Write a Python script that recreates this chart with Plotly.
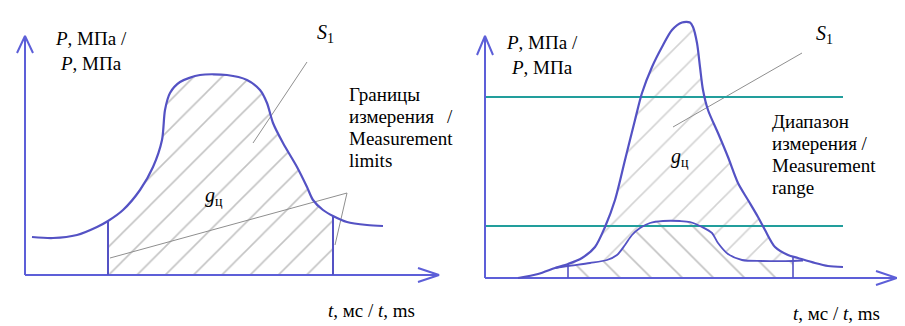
import plotly.graph_objects as go

# ---- data (screen-space schematic coordinates: t to the right, P drawn upward; y measured from top) ----
# Left panel: pressure curve
left_t = [32, 53, 77, 97, 108, 123, 140, 153, 162, 165, 170, 180, 200, 227, 247, 260, 267, 273,
          283, 297, 307, 313, 323, 333, 347, 367, 383]
left_p = [237, 238, 235, 227, 221, 210, 190, 167, 140, 110, 93, 82, 75, 75, 80, 90, 103, 123,
          143, 167, 187, 200, 210, 216, 222, 225, 226]
left_limits_t = [108, 333]
left_limits_p = [221, 216]

# Right panel: main pressure curve
right_t = [518, 538, 555, 568, 582, 595, 605, 615, 625, 635, 642, 652, 662, 672, 682, 690, 693,
           697, 700, 703, 708, 718, 728, 738, 748, 758, 765, 775, 788, 798, 815, 828, 843]
right_p = [278, 274, 268, 264, 258, 247, 227, 200, 160, 120, 93, 67, 47, 30, 22.5, 22.5, 27,
           43, 67, 90, 110, 133, 157, 183, 200, 217, 230, 247, 255, 258, 263, 266, 267]
# Right panel: lower (inner) curve
low_t = [555, 568, 590, 607, 617, 625, 632, 640, 650, 663, 680, 690, 702, 712, 718, 728, 742,
         762, 793, 803]
low_p = [268, 266, 263, 260, 255, 245, 235, 228, 223, 221, 221, 222, 227, 233, 243, 254, 260,
         261, 261, 260.5]
right_limits_t = [568, 793]
right_limits_p = [264, 256]
range_levels = [97, 226]

AX = "#5d5fd8"
CURVE = "#5452c4"
TEAL = "#229e9c"
GRAY = "#8f8f8f"
FONT = "Liberation Serif, Times New Roman, DejaVu Serif, serif"
OFF = 8  # page body margin compensation

fig = go.Figure()


def line(xs, ys, color, width, shape="linear"):
    fig.add_trace(go.Scatter(x=xs, y=ys, mode="lines",
                             line=dict(color=color, width=width, shape=shape, smoothing=0.8),
                             hoverinfo="skip", showlegend=False))


def hatch(xs, ys, shape, fg, size=20):
    fig.add_trace(go.Scatter(x=xs, y=ys, mode="lines", fill="toself", line=dict(width=0),
                             fillcolor="white",
                             fillpattern=dict(shape=shape, size=size, solidity=0.08,
                                              fgcolor=fg, bgcolor="white"),
                             hoverinfo="skip", showlegend=False))


# ---------- left panel ----------
i0 = left_t.index(left_limits_t[0])
i1 = left_t.index(left_limits_t[1])
hx = [left_limits_t[0]] + left_t[i0:i1 + 1] + [left_limits_t[1]]
hy = [275] + left_p[i0:i1 + 1] + [275]
hatch(hx, hy, "/", "#888888", 20)

# leader lines
line([307, 253], [62, 143], GRAY, 1)
line([110, 347, 335], [258, 193, 245], GRAY, 1)

# axes
line([25, 25], [275, 37], AX, 2)
line([17, 25, 33], [53, 36, 53], AX, 2)
line([25, 439], [275, 275], AX, 2)
line([418, 439, 418], [268, 275, 282], AX, 2)

# limits
for t, p in zip(left_limits_t, left_limits_p):
    line([t, t], [p, 275], CURVE, 2)
line(left_t, left_p, CURVE, 2.2, "spline")

# ---------- right panel ----------
j0 = right_t.index(555)
ux = right_t[j0:right_t.index(798) + 1] + low_t[::-1]
uy = right_p[j0:right_t.index(798) + 1] + low_p[::-1]
hatch(ux, uy, "/", "#a8a8a8", 20)

k0 = low_t.index(right_limits_t[0])
k1 = low_t.index(right_limits_t[1])
lx = [right_limits_t[0]] + low_t[k0:k1 + 1] + [right_limits_t[1]]
ly = [278] + low_p[k0:k1 + 1] + [278]
hatch(lx, ly, "\\", "#888888", 22)

line([802, 673], [53, 127], GRAY, 1)

for lv in range_levels:
    line([485, 843], [lv, lv], TEAL, 2)

line([485, 485], [278, 37], AX, 2)
line([477, 485, 493], [55, 36, 55], AX, 2)
line([485, 897], [278, 278], AX, 2)
line([876, 897, 876], [271, 278, 285], AX, 2)

for t, p in zip(right_limits_t, right_limits_p):
    line([t, t], [p, 278], CURVE, 1.6)
line(low_t, low_p, CURVE, 1.8, "spline")
line(right_t, right_p, CURVE, 2.2, "spline")


# ---------- texts ----------
def text(x, y, s, size=19, xanchor="left"):
    fig.add_annotation(x=x, y=y, text=s, showarrow=False, xanchor=xanchor, yanchor="middle",
                       font=dict(family=FONT, size=size, color="black"))


text(91, 38, "<i>P</i>, МПа /", xanchor="center")
text(91, 63, "<i>P</i>, МПа", xanchor="center")
text(325, 33, "<i>S</i><sub>1</sub>", xanchor="center", size=20)
text(347, 94, "Границы")
text(347, 116, "измерения")
text(450, 116, "/", xanchor="center")
text(347, 138, "Measurement")
text(347, 160, "limits")
text(214, 196, "<i>g</i><sub>ц</sub>", xanchor="center", size=20)
text(417, 310, "<i>t</i>, мс / <i>t</i>, ms", xanchor="right")

text(542, 42, "<i>P</i>, МПа /", xanchor="center")
text(542, 67, "<i>P</i>, МПа", xanchor="center")
text(824, 34, "<i>S</i><sub>1</sub>", xanchor="center", size=20)
text(770, 121, "Диапазон")
text(770, 143, "измерения /")
text(770, 165, "Measurement")
text(770, 187, "range")
text(680, 157, "<i>g</i><sub>ц</sub>", xanchor="center", size=20)
text(882, 313, "<i>t</i>, мс / <i>t</i>, ms", xanchor="right")

fig.update_layout(
    width=905, height=326, margin=dict(l=0, r=0, t=0, b=0),
    paper_bgcolor="white", plot_bgcolor="white",
    font=dict(family=FONT),
    xaxis=dict(range=[OFF, 905 + OFF], visible=False, fixedrange=True),
    yaxis=dict(range=[326 + OFF, OFF], visible=False, fixedrange=True),
    showlegend=False,
)

fig.write_html("out.html")
